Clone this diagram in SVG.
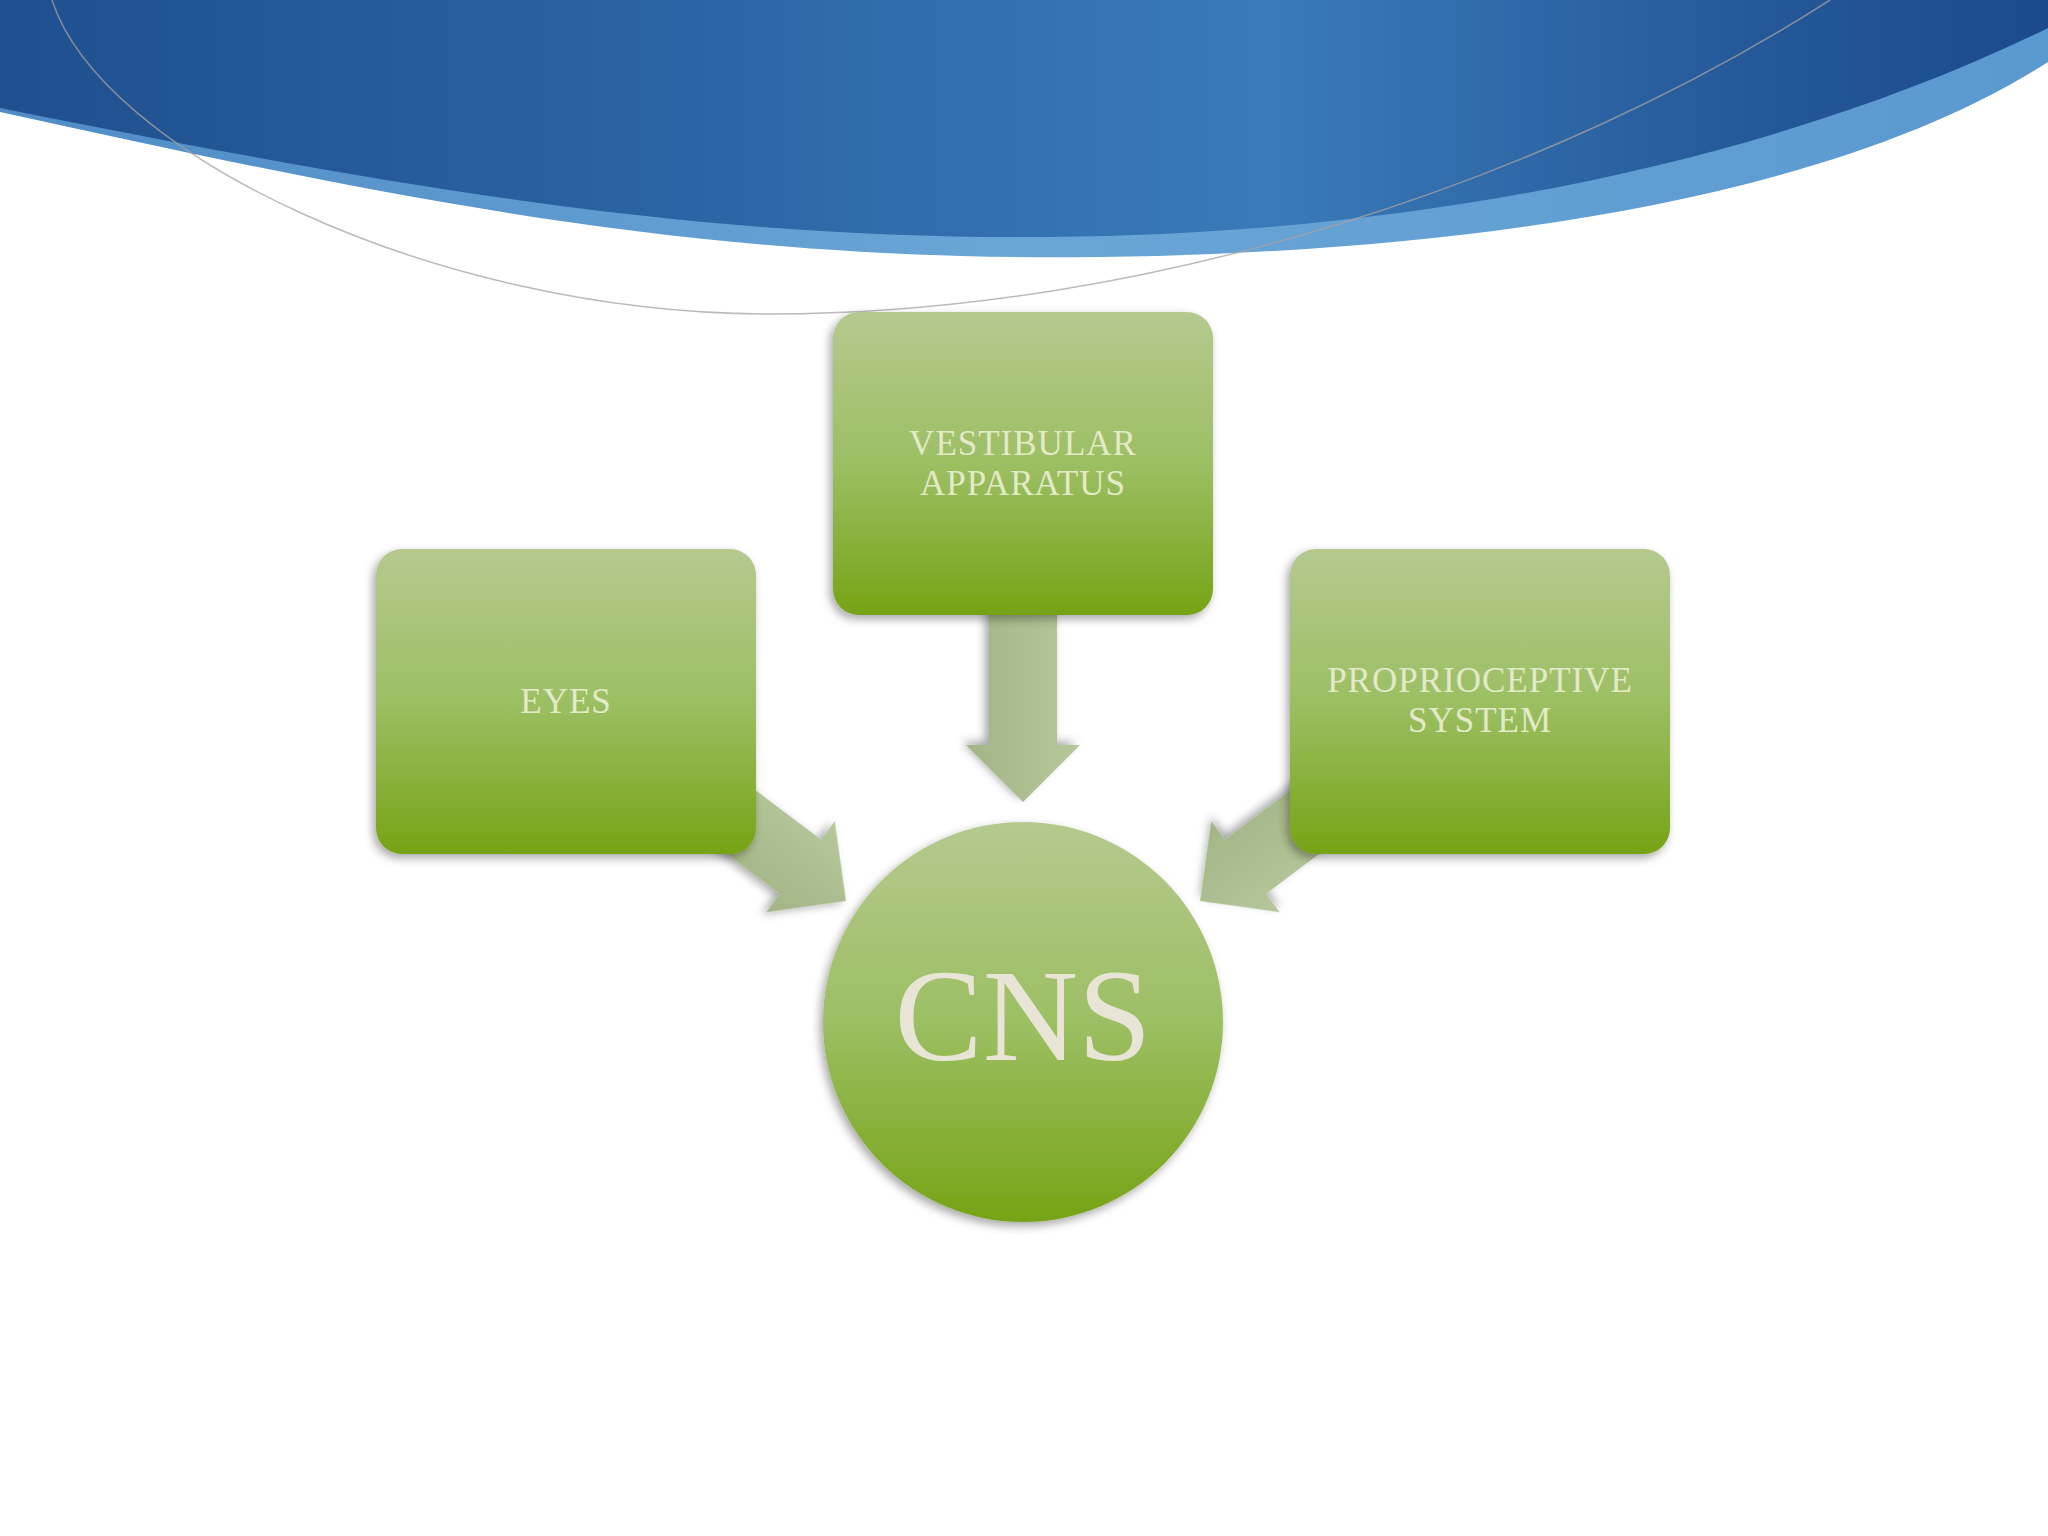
<svg xmlns="http://www.w3.org/2000/svg" width="2048" height="1536" viewBox="0 0 2048 1536">
  <defs>
    <linearGradient id="blue" x1="0" y1="0" x2="1" y2="0">
      <stop offset="0" stop-color="#1f4f8e"/>
      <stop offset="0.3" stop-color="#2a62a2"/>
      <stop offset="0.62" stop-color="#3a7ab8"/>
      <stop offset="0.85" stop-color="#25599a"/>
      <stop offset="1" stop-color="#1b4a8c"/>
    </linearGradient>
    <linearGradient id="lightblue" x1="0" y1="0" x2="1" y2="0">
      <stop offset="0" stop-color="#4f8cc6"/>
      <stop offset="0.5" stop-color="#6aa6d6"/>
      <stop offset="1" stop-color="#5a98d0"/>
    </linearGradient>
    <linearGradient id="green" x1="0" y1="0" x2="0" y2="1">
      <stop offset="0" stop-color="#b5c98f"/>
      <stop offset="0.5" stop-color="#9cbf63"/>
      <stop offset="1" stop-color="#76a315"/>
    </linearGradient>
    <linearGradient id="arrowfill" x1="0" y1="0" x2="0" y2="1">
      <stop offset="0" stop-color="#b6c89b"/>
      <stop offset="1" stop-color="#a3b585"/>
    </linearGradient>
    <filter id="shadow" x="-20%" y="-20%" width="140%" height="140%">
      <feDropShadow dx="-3" dy="4" stdDeviation="5" flood-color="#000" flood-opacity="0.35"/>
    </filter>
    <path id="arrowshape" d="M0,0 L-57,-57 L-57,-34 L-190,-34 L-190,34 L-57,34 L-57,57 Z"/>
    <style>
      .box { fill: url(#green); filter: url(#shadow); }
      .arrow { fill: url(#arrowfill); filter: url(#shadow); }
      .label { font-family: "Liberation Serif", "Times New Roman", serif; font-size: 35px; letter-spacing: 1px; fill: #e2eac8; text-anchor: middle; }
      .big { font-family: "Liberation Serif", "Times New Roman", serif; font-size: 132px; fill: #e8e5d6; text-anchor: middle; }
    </style>
  </defs>

  <rect width="2048" height="1536" fill="#ffffff"/>

  <!-- header band -->
  <path d="M0,0 L0,112 C400,200 700,262 1100,257 C1500,252 1850,190 2048,62 L2048,0 Z" fill="url(#lightblue)"/>
  <path d="M0,0 L0,108 C400,188 700,240 1050,237 C1450,234 1800,150 2048,28 L2048,0 Z" fill="url(#blue)"/>
  <path d="M52,0 C100,150 430,314 770,314 C1150,314 1550,180 1830,0" fill="none" stroke="#a8a2a2" stroke-width="1.5" opacity="0.75"/>

  <!-- connectors -->
  <g id="connectors">
    <use href="#arrowshape" class="arrow" transform="translate(1023,802) rotate(90)"/>
    <use href="#arrowshape" class="arrow" transform="translate(846,901) rotate(37)"/>
    <use href="#arrowshape" class="arrow" transform="translate(1200,901) rotate(143)"/>
  </g>

  <g id="node-vestibular">
    <rect class="box" x="833" y="312" width="380" height="303" rx="26"/>
    <text class="label" x="1023" y="455">VESTIBULAR</text>
    <text class="label" x="1023" y="495">APPARATUS</text>
  </g>

  <g id="node-eyes">
    <rect class="box" x="376" y="549" width="380" height="305" rx="26"/>
    <text class="label" x="566" y="713">EYES</text>
  </g>

  <g id="node-proprioceptive">
    <rect class="box" x="1290" y="549" width="380" height="305" rx="26"/>
    <text class="label" x="1480" y="692">PROPRIOCEPTIVE</text>
    <text class="label" x="1480" y="732">SYSTEM</text>
  </g>

  <g id="node-cns">
    <circle class="box" cx="1023" cy="1022" r="200"/>
    <text class="big" x="1023" y="1060">CNS</text>
  </g>
</svg>
